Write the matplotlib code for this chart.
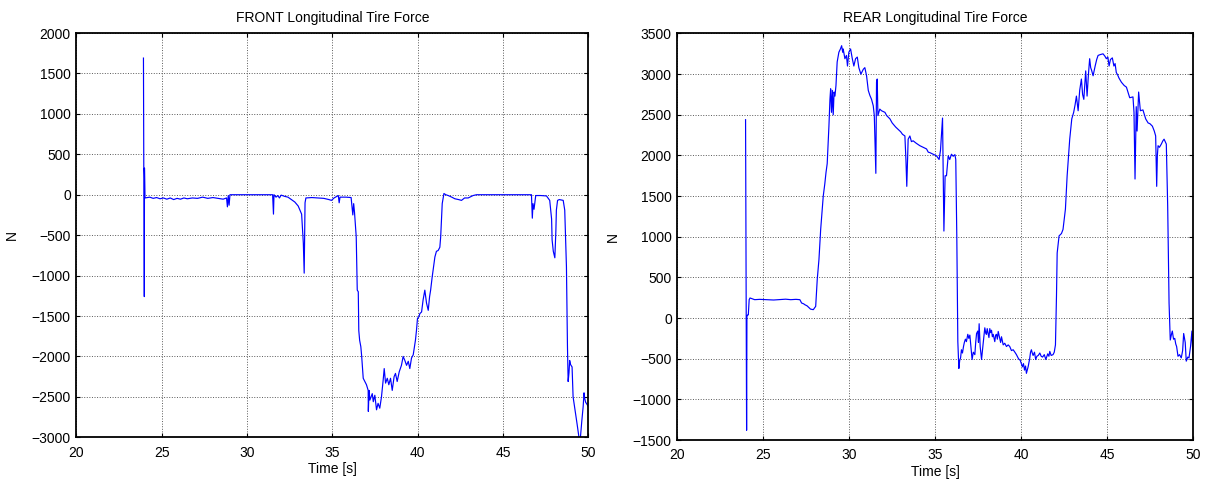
import matplotlib
matplotlib.use("Agg")
import matplotlib.pyplot as plt

plt.rcParams['font.family'] = ['Liberation Sans', 'DejaVu Sans']
plt.rcParams['font.size'] = 10

# front longitudinal tire force (time [s], force [N])
front_t = [23.93, 23.95, 23.96, 23.98, 23.99, 24.02, 24.3, 24.5, 24.7, 24.9,
           25.1, 25.3, 25.5, 25.7, 25.9, 26.1, 26.3, 26.5, 26.8, 27.1,
           27.4, 27.7, 28.0, 28.3, 28.6, 28.8, 28.85, 28.9, 28.95, 29.0,
           31.5, 31.55, 31.58, 31.7, 31.8, 31.9, 32.0, 32.2, 32.4, 32.6,
           32.8, 33.0, 33.2, 33.3, 33.35, 33.4, 33.45, 33.8, 34.2, 34.5,
           34.8, 34.95, 35.1, 35.35, 35.4, 35.45, 35.8, 36.1, 36.2, 36.25,
           36.3, 36.4, 36.46, 36.52, 36.55, 36.6, 36.67, 36.72, 36.81, 37.0,
           37.1, 37.11, 37.15, 37.2, 37.34, 37.4, 37.49, 37.59, 37.68, 37.78,
           37.88, 37.98, 38.04, 38.12, 38.22, 38.31, 38.41, 38.51, 38.62, 38.7,
           38.8, 38.92, 39.05, 39.15, 39.25, 39.35, 39.45, 39.54, 39.64, 39.74,
           39.8, 39.87, 39.93, 39.99, 40.07, 40.13, 40.23, 40.32, 40.42, 40.52,
           40.62, 40.7, 40.76, 40.85, 41.01, 41.1, 41.2, 41.3, 41.35, 41.44,
           41.54, 41.65, 41.79, 42.0, 42.18, 42.4, 42.57, 42.75, 42.96, 43.15,
           43.25, 43.45, 46.67, 46.72, 46.76, 46.82, 46.92, 47.2, 47.55, 47.74,
           47.85, 47.88, 47.95, 48.04, 48.1, 48.13, 48.2, 48.3, 48.53, 48.62,
           48.72, 48.78, 48.82, 48.87, 48.91, 48.96, 49.05, 49.11, 49.25, 49.34,
           49.46, 49.54, 49.62, 49.70, 49.75, 49.79, 49.85, 49.89, 50.0]
front_f = [1690, 320, 200, -1260, 330, -40, -30, -45, -35, -50,
           -40, -55, -40, -60, -45, -55, -40, -50, -40, -45,
           -30, -45, -35, -45, -55, -40, -150, -10, -130, 0,
           0, -240, 0, -30, -10, -40, -5, -20, -30, -60,
           -90, -140, -240, -600, -970, -100, -40, -35, -40, -45,
           -60, -70, -40, -10, -100, -30, -30, -35, -250, -110,
           -220, -520, -1180, -1200, -1680, -1800, -1880, -2000, -2270, -2350,
           -2420, -2680, -2420, -2540, -2460, -2560, -2480, -2660, -2580, -2640,
           -2500, -2290, -2150, -2330, -2270, -2350, -2270, -2420, -2250, -2210,
           -2310, -2190, -2110, -2000, -2050, -2110, -2060, -2150, -2020, -1980,
           -1900, -1800, -1680, -1530, -1510, -1470, -1450, -1300, -1180, -1340,
           -1430, -1260, -1180, -1020, -770, -700, -690, -650, -520, -110,
           15, 0, -10, -30, -50, -60, -70, -40, -40, -20,
           -10, 0, 0, -290, -110, -180, -10, -10, -15, -70,
           -300, -560, -700, -780, -450, -190, -70, -60, -70, -190,
           -890, -1880, -2310, -2200, -2050, -2100, -2130, -2500, -2700, -2830,
           -3010, -3000, -2800, -2620, -2450, -2520, -2570, -2580, -2620]

# rear longitudinal tire force
rear_t = [23.97, 24.03, 24.05, 24.10, 24.13, 24.18, 24.23, 24.5, 24.8, 25.2,
          25.6, 26.0, 26.3, 26.6, 26.9, 27.13, 27.23, 27.35, 27.42, 27.55,
          27.62, 27.75, 27.91, 28.05, 28.14, 28.24, 28.34, 28.42, 28.49, 28.58,
          28.65, 28.72, 28.76, 28.82, 28.88, 28.92, 28.97, 29.02, 29.07, 29.12,
          29.17, 29.23, 29.30, 29.40, 29.49, 29.56, 29.62, 29.65, 29.75, 29.84,
          29.9, 29.98, 30.08, 30.18, 30.27, 30.37, 30.47, 30.56, 30.68, 30.82,
          30.91, 31.01, 31.11, 31.2, 31.30, 31.40, 31.46, 31.49, 31.55, 31.59,
          31.63, 31.67, 31.78, 31.88, 32.08, 32.18, 32.37, 32.5, 32.56, 32.7,
          32.85, 33.0, 33.1, 33.24, 33.30, 33.35, 33.43, 33.53, 33.62, 33.72,
          33.9, 34.11, 34.3, 34.5, 34.6, 34.69, 34.89, 35.08, 35.23, 35.31,
          35.43, 35.47, 35.51, 35.58, 35.66, 35.76, 35.85, 35.95, 36.05, 36.15,
          36.2, 36.26, 36.32, 36.38, 36.43, 36.48, 36.53, 36.59, 36.65, 36.7,
          36.76, 36.82, 36.9, 36.96, 37.02, 37.08, 37.15, 37.22, 37.31, 37.36,
          37.41, 37.48, 37.52, 37.56, 37.62, 37.7, 37.75, 37.8, 37.89, 37.94,
          37.98, 38.03, 38.08, 38.13, 38.18, 38.23, 38.28, 38.33, 38.38, 38.47,
          38.52, 38.57, 38.62, 38.67, 38.76, 38.81, 38.86, 38.96, 39.05, 39.15,
          39.25, 39.34, 39.44, 39.54, 39.64, 39.73, 39.85, 39.95, 40.08, 40.14,
          40.2, 40.26, 40.31, 40.41, 40.50, 40.55, 40.60, 40.65, 40.7, 40.78,
          40.85, 40.92, 41.0, 41.09, 41.17, 41.25, 41.35, 41.44, 41.55, 41.62,
          41.67, 41.75, 41.86, 41.93, 42.0, 42.06, 42.10, 42.21, 42.35, 42.44,
          42.58, 42.68, 42.83, 42.95, 43.06, 43.14, 43.22, 43.32, 43.41, 43.51,
          43.58, 43.65, 43.76, 43.84, 43.92, 43.99, 44.05, 44.1, 44.19, 44.31,
          44.4, 44.48, 44.6, 44.77, 44.88, 44.96, 45.05, 45.12, 45.2, 45.31,
          45.4, 45.47, 45.54, 45.62, 45.7, 45.84, 46.0, 46.13, 46.22, 46.32,
          46.51, 46.57, 46.63, 46.70, 46.75, 46.84, 46.94, 47.09, 47.25, 47.39,
          47.5, 47.64, 47.75, 47.83, 47.89, 47.93, 47.97, 48.05, 48.16, 48.25,
          48.32, 48.45, 48.53, 48.61, 48.68, 48.75, 48.80, 48.87, 48.94, 49.0,
          49.05, 49.13, 49.22, 49.32, 49.40, 49.46, 49.55, 49.61, 49.70, 49.77,
          49.86, 49.94, 50.0]
rear_f = [2440, -1380, 20, 40, 40, 226, 247, 226, 230, 226,
          222, 228, 232, 226, 230, 226, 185, 175, 164, 150,
          136, 110, 103, 144, 473, 720, 1090, 1300, 1500, 1650,
          1790, 1900, 2080, 2360, 2690, 2820, 2530, 2800, 2500, 2780,
          2730, 2860, 3150, 3270, 3310, 3350, 3270, 3310, 3190, 3230,
          3100, 3270, 3310, 3190, 3100, 3190, 3210, 3080, 3000, 3060,
          3080, 2980, 2800, 2740, 2690, 2610, 2490, 2240, 1780, 2900,
          2940, 2490, 2570, 2550, 2530, 2490, 2450, 2400, 2385, 2350,
          2320, 2290, 2260, 2240, 1950, 1620, 2200, 2240, 2170, 2180,
          2150, 2120, 2100, 2080, 2040, 2035, 2015, 1995, 1950, 2060,
          2460, 1750, 1070, 1750, 1750, 1995, 1950, 2015, 1990, 2010,
          1950, 1010, -290, -620, -520, -490, -390, -430, -350, -300,
          -260, -290, -200, -250, -210, -350, -510, -420, -450, -300,
          -190, -160, -300, -70, -350, -510, -400, -300, -120, -180,
          -200, -130, -190, -240, -130, -180, -150, -230, -200, -290,
          -210, -200, -260, -165, -250, -300, -230, -330, -310, -350,
          -330, -350, -400, -390, -420, -450, -500, -520, -600, -560,
          -640, -590, -680, -600, -500, -420, -390, -430, -460, -420,
          -510, -470, -460, -430, -470, -480, -450, -510, -440, -470,
          -410, -460, -450, -420, -330, 270, 800, 1010, 1040, 1090,
          1340, 1750, 2200, 2450, 2530, 2620, 2730, 2550, 2800, 2940,
          2750, 2690, 3040, 2730, 3000, 3190, 3080, 3050, 2980, 3100,
          3180, 3230, 3240, 3250, 3220, 3190, 3210, 3100, 3180, 3200,
          3100, 3130, 3020, 2990, 2950, 2900, 2860, 2840, 2780, 2710,
          2720, 2530, 1710, 2600, 2300, 2780, 2550, 2560, 2450, 2400,
          2390, 2360, 2300, 2240, 1620, 2000, 2120, 2100, 2140, 2180,
          2200, 2140, 1380, 185, -270, -200, -160, -260, -250, -320,
          -350, -470, -450, -490, -400, -190, -300, -530, -480, -490,
          -350, -160, -480]

titles = ["FRONT Longitudinal Tire Force", "REAR Longitudinal Tire Force"]
ylims = [(-3000, 2000), (-1500, 3500)]
yticks = [list(range(-3000, 2001, 500)), list(range(-1500, 3501, 500))]
xticks = [20, 25, 30, 35, 40, 45, 50]

fig = plt.figure(figsize=(12.05, 4.84), dpi=100)
ax1 = fig.add_axes([0.0634, 0.0965, 0.4248, 0.8353])
ax2 = fig.add_axes([0.5621, 0.0909, 0.4279, 0.8399])

for ax, t, f, title, ylim, yt in zip([ax1, ax2], [front_t, rear_t], [front_f, rear_f],
                                    titles, ylims, yticks):
    ax.plot(t, f, color='#0000ff', linewidth=0.85)
    ax.set_xlim(20, 50)
    ax.set_ylim(*ylim)
    ax.set_xticks(xticks)
    ax.set_yticks(yt)
    ax.set_title(title, fontsize=10, pad=8)
    ax.set_xlabel("Time [s]", labelpad=2)
    ax.set_ylabel("N")
    ax.yaxis.set_label_coords(-0.112, 0.5)
    ax.grid(True, linestyle=':', color='0.35', linewidth=0.7)
    ax.tick_params(direction='in', top=True, right=True, length=3, width=0.8)
    ax.tick_params(axis='x', pad=6)
    ax.tick_params(axis='y', pad=4)
    for s in ax.spines.values():
        s.set_linewidth(1.3)

fig.savefig("out.png", dpi=100)
